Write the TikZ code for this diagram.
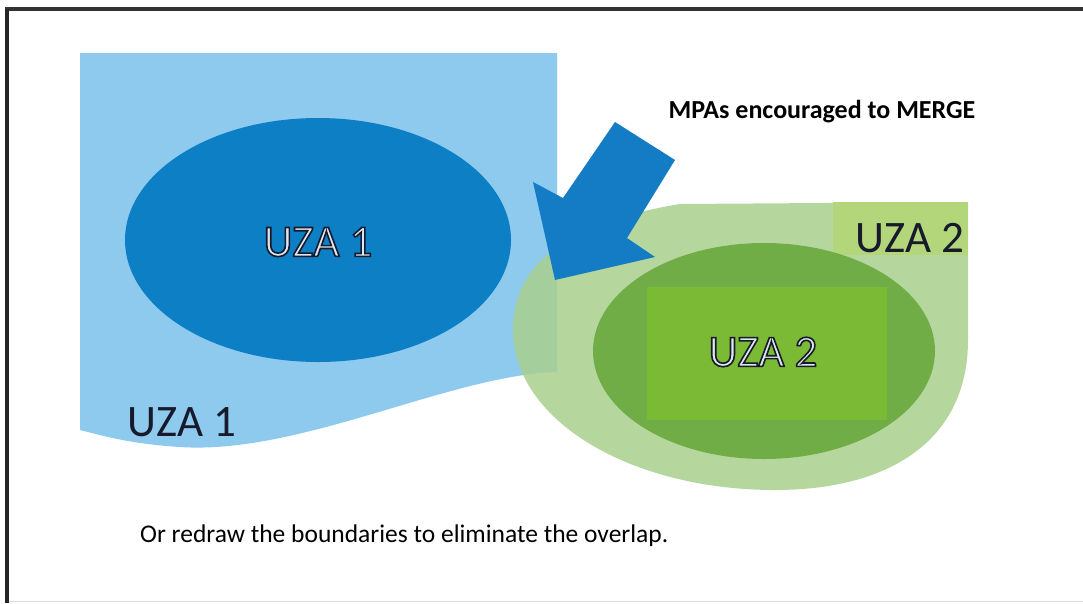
\documentclass[tikz,border=0pt]{standalone}
\usepackage{fontspec}
\setmainfont{Carlito}

\definecolor{uzaonelight}{RGB}{142,201,238}
\definecolor{uzaonedark}{RGB}{12,127,197}
\definecolor{arrowblue}{RGB}{19,124,196}
\definecolor{uzatwolight}{RGB}{169,209,142}
\definecolor{uzatwodark}{RGB}{112,173,71}
\definecolor{uzatwobox}{RGB}{122,186,52}
\definecolor{uzatwotag}{RGB}{180,214,122}
\definecolor{labelink}{RGB}{22,26,42}
\definecolor{hollowfill}{RGB}{222,230,240}

% filled and stroked glyphs (text render mode 2)
\newcommand{\hollow}[1]{\textcolor{hollowfill}{\special{pdf:literal direct 2 Tr 1.6 w 0.086 0.102 0.165 RG}#1\special{pdf:literal direct 0 Tr}}}

\tikzset{
	zonelabel/.style={inner sep=0pt, text=labelink, font=\fontsize{45}{52}\selectfont},
	corelabel/.style={inner sep=0pt, font=\fontsize{45}{52}\selectfont}
}

\begin{document}
\begin{tikzpicture}[x=1pt,y=-1pt]
		\useasboundingbox (0,0) rectangle (1083,603);
		\fill[white] (0,0) rectangle (1083,603);
		\draw[line width=4.5pt, black!80] (5,9) -- (1083,9);
		\draw[line width=4.5pt, black!85] (7,9) -- (7,603);
		\draw[line width=1pt, black!15] (9,601) -- (1083,601);
		
		% UZA 1
		\fill[uzaonelight] (80,53) -- (557,53) -- (557,372)
			.. controls (450,375) and (300,455) .. (180,447)
			.. controls (130,444) and (100,435) .. (80,430) -- cycle;
		\fill[uzaonedark] (318,240) ellipse [x radius=193, y radius=122];
		\node[corelabel] (uzaone) at (318,242) {\hollow{UZA 1}};
		\node[zonelabel] (uzaonezone) at (182,422) {UZA 1};
		
		% UZA 2
		\fill[uzatwolight, fill opacity=0.85] (968,202) -- (968,340)
			.. controls (968,440) and (890,490) .. (775,490)
			.. controls (630,490) and (513,420) .. (513,330)
			.. controls (513,262) and (570,222) .. (680,204) -- cycle;
		\fill[uzatwotag] (833,202) rectangle (968,255);
		\node[zonelabel] (uzatwozone) at (910,238) {UZA 2};
		\fill[uzatwodark] (764,351) ellipse [x radius=171, y radius=108];
		\fill[uzatwobox] (647,287) rectangle (887,420);
		\node[corelabel] (uzatwo) at (763,352) {\hollow{UZA 2}};
		
		% merge arrow
		\fill[arrowblue] (615,122) -- (675,160) -- (627,238) -- (655,257)
			-- (555,280) -- (533,182) -- (563,198) -- cycle;
		\node[inner sep=0pt, font=\bfseries\fontsize{26}{30}\selectfont] (merge) at (822,112) {MPAs encouraged to MERGE};
		
		\node[inner sep=0pt, anchor=west, font=\fontsize{25.5}{30}\selectfont] (note) at (140,536) {Or redraw the boundaries to eliminate the overlap.};
	\end{tikzpicture}
\end{document}
